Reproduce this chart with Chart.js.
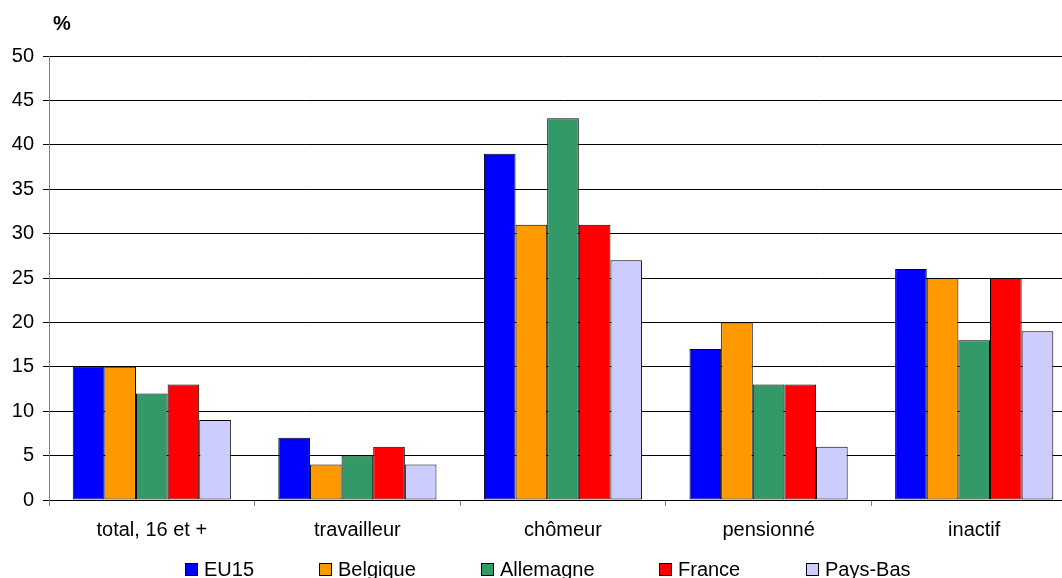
<!DOCTYPE html>
<html>
<head>
<meta charset="utf-8">
<script src="https://cdn.jsdelivr.net/npm/chart.js@4/dist/chart.umd.min.js"></script>
<style>
  html, body { margin: 0; padding: 0; background: #fff; overflow: hidden; }
  #wrap { width: 1062px; height: 578px; overflow: hidden; }
  canvas { display: block; }
</style>
</head>
<body>
<div id="wrap"><canvas id="chart" width="1077" height="578" style="width:1077px;height:578px"></canvas></div>
<script>
// Categories (groups on the x axis)
const categories = ['total, 16 et +', 'travailleur', 'chômeur', 'pensionné', 'inactif'];

// Series values, in %
const eu15      = [15, 7, 39, 17, 26];
const belgique  = [15, 4, 31, 20, 25];
const allemagne = [12, 5, 43, 13, 18];
const france    = [13, 6, 31, 13, 25];
const paysBas   = [9, 4, 27, 6, 19];

// Series names
const seriesNames = ['EU15', 'Belgique', 'Allemagne', 'France', 'Pays-Bas'];

// Value axis range and tick step
const yMin = 0;
const yMax = 50;
const yStep = 5;

const unitLabel = '%';

const FONT = '"Liberation Sans", Arial, sans-serif';
const colors = ['#0000FF', '#FF9900', '#339966', '#FF0000', '#CCCCFF'];
const seriesData = [eu15, belgique, allemagne, france, paysBas];

const datasets = seriesNames.map((name, i) => ({
  label: name,
  data: seriesData[i],
  backgroundColor: colors[i],
  borderColor: '#000000',
  borderWidth: 1,
  borderSkipped: false,
  categoryPercentage: 1 / 1.3,
  barPercentage: 1.0
}));

// Unit label above the value axis
const unitPlugin = {
  id: 'unitLabel',
  afterDraw(chart) {
    const ctx = chart.ctx;
    ctx.save();
    ctx.font = 'bold 20px ' + FONT;
    ctx.fillStyle = '#000';
    ctx.textBaseline = 'alphabetic';
    ctx.textAlign = 'left';
    ctx.fillText(unitLabel, chart.chartArea.left + 4, 30);
    ctx.restore();
  }
};

// Single-row legend centred under the plot
const legendPlugin = {
  id: 'rowLegend',
  afterDraw(chart) {
    const ctx = chart.ctx;
    const box = 13, textGap = 6, itemGap = 65, centerX = 548, midY = 570;
    ctx.save();
    ctx.font = '20px ' + FONT;
    const items = chart.data.datasets.map(ds => ({
      text: ds.label,
      color: ds.backgroundColor,
      w: box + textGap + ctx.measureText(ds.label).width
    }));
    const total = items.reduce((s, it) => s + it.w, 0) + itemGap * (items.length - 1);
    let x = Math.round(centerX - total / 2);
    items.forEach(it => {
      const bx = Math.round(x), by = midY - 7;
      ctx.fillStyle = it.color;
      ctx.fillRect(bx, by, box, box);
      ctx.strokeStyle = '#000';
      ctx.lineWidth = 1;
      ctx.strokeRect(bx + 0.5, by + 0.5, box - 1, box - 1);
      ctx.fillStyle = '#000';
      ctx.textBaseline = 'middle';
      ctx.textAlign = 'left';
      ctx.fillText(it.text, bx + box + textGap, midY);
      x += it.w + itemGap;
    });
    ctx.restore();
  }
};

new Chart(document.getElementById('chart'), {
  type: 'bar',
  data: { labels: categories, datasets },
  options: {
    responsive: false,
    animation: false,
    devicePixelRatio: 1,
    layout: { padding: { top: 56, left: 0, right: 0, bottom: 0 } },
    plugins: {
      legend: { display: false },
      title: { display: false },
      tooltip: { enabled: false }
    },
    scales: {
      x: {
        offset: true,
        grid: {
          offset: true,
          drawOnChartArea: false,
          tickLength: 6,
          tickColor: '#808080',
          lineWidth: 1
        },
        border: { display: true, color: '#000000', width: 1 },
        ticks: {
          color: '#000',
          font: { family: FONT, size: 20 },
          padding: 12,
          maxRotation: 0,
          autoSkip: false
        },
        afterFit(scale) { scale.height = 78; }
      },
      y: {
        min: yMin,
        max: yMax,
        grid: {
          color: '#000000',
          tickColor: '#000000',
          tickLength: 6,
          lineWidth: 1
        },
        border: { display: true, color: '#808080', width: 1 },
        ticks: {
          stepSize: yStep,
          color: '#000',
          font: { family: FONT, size: 20 },
          padding: 9
        },
        afterFit(scale) { scale.width = 49; }
      }
    }
  },
  plugins: [unitPlugin, legendPlugin]
});
</script>
</body>
</html>
